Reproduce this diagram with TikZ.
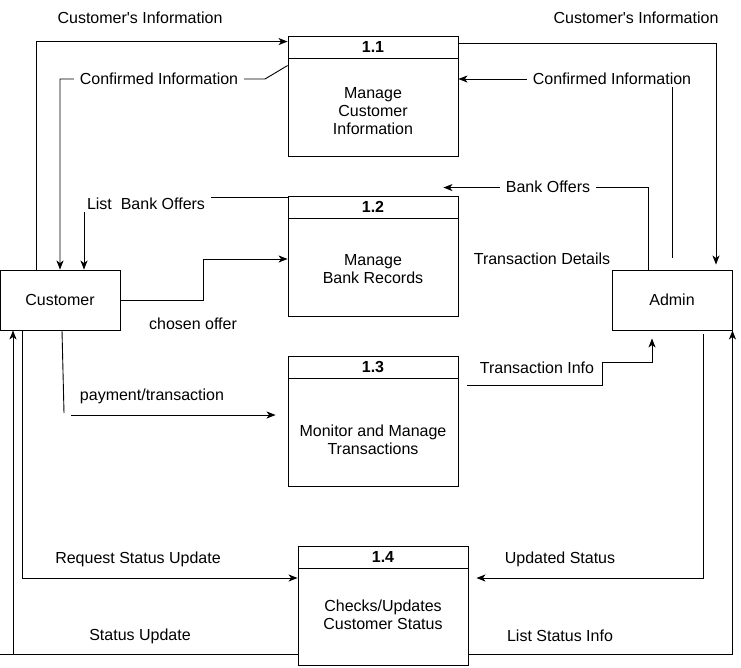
\documentclass[tikz,border=0pt]{standalone}
\usepackage{fontspec}
\setmainfont{Liberation Sans}
\usetikzlibrary{arrows.meta}

\begin{document}
\begin{tikzpicture}[x=1pt, y=-1pt,
    every node/.style={font=\fontsize{16}{18}\selectfont},
    ext/.style={draw, line width=0.9pt, minimum width=120pt, minimum height=60pt, inner sep=0pt},
    procbox/.style={draw, line width=0.9pt, minimum width=170pt, inner sep=0pt,
      path picture={\draw[line width=0.9pt]
        ([yshift=-22.5pt]path picture bounding box.north west) --
        ([yshift=-22.5pt]path picture bounding box.north east);}},
    procnum/.style={font=\fontsize{16}{18}\selectfont\bfseries},
    proctxt/.style={align=center},
    flow/.style={line width=0.9pt, -{Stealth[length=9pt, width=7pt, inset=2.5pt]}},
    plain/.style={line width=0.9pt},
    lbl/.style={fill=white, inner xsep=6pt, inner ysep=2pt}]
  \useasboundingbox (0,0) rectangle (741,667);

  % external entities
  \node[ext] (cust) at (60,300) {Customer};
  \node[ext] (admin) at (672,300) {Admin};

  % processes
  \node[procbox, minimum height=120pt] (p11) at (373,96) {};
  \node[procnum] (p11n) at ([yshift=-11.5pt]p11.north) {1.1};
  \node[proctxt] (p11t) at ([yshift=-15pt]p11.center) {Manage\\Customer\\Information};

  \node[procbox, minimum height=120pt] (p12) at (373,256) {};
  \node[procnum] (p12n) at ([yshift=-11.5pt]p12.north) {1.2};
  \node[proctxt] (p12t) at ([yshift=-13pt]p12.center) {Manage\\Bank Records};

  \node[procbox, minimum height=130pt] (p13) at (373,421) {};
  \node[procnum] (p13n) at ([yshift=-11.5pt]p13.north) {1.3};
  \node[proctxt] (p13t) at ([yshift=-19pt]p13.center) {Monitor and Manage\\Transactions};

  \node[procbox, minimum height=119pt] (p14) at (383,605.5) {};
  \node[procnum] (p14n) at ([yshift=-11.5pt]p14.north) {1.4};
  \node[proctxt] (p14t) at ([yshift=-9.5pt]p14.center) {Checks/Updates\\Customer Status};

  % data flows
  \draw[flow] ([xshift=-24pt]cust.north) |- ([yshift=-6pt]p11.north west);
  \draw[flow] ([yshift=-30pt]p11.north west) -- (265,79) -| (cust.north);
  \draw[flow] ([yshift=-2pt]p12.north west) -| ([xshift=24pt]cust.north);
  \draw[flow] (cust.east) -- (203,300) |- ([yshift=-3pt]p12.west);
  \draw[plain] ([xshift=2pt]cust.south) -- (64,413);
  \coordinate (payin) at (71,415);
  \draw[flow] (payin) -- ([xshift=-12pt,yshift=6pt]p13.west);

  \draw[flow, shorten >=5pt] ([yshift=-8pt]p11.north east) -| ([xshift=44pt]admin.north);
  \draw[flow] ([yshift=12pt]admin.north) |- ([yshift=17pt]p11.east);
  \draw[flow] ([xshift=-24pt]admin.north) |- ([xshift=-15pt,yshift=8pt]p12.north east);
  \draw[flow] ([xshift=9pt,yshift=36pt]p13.east) -| (602,362) -| ([xshift=-20pt,yshift=-8pt]admin.south);

  \draw[flow] ([xshift=31pt,yshift=-4pt]admin.south) |- ([xshift=8pt,yshift=27.5pt]p14.east);
  \draw[flow] ([yshift=-48.5pt]p14.east) -| (admin.south east);
  \draw[flow] ([xshift=-38pt]cust.south) |- ([yshift=27.5pt]p14.west);
  \draw[flow] ([yshift=-48.5pt]p14.west) -| ([xshift=-47pt]cust.south);
  \draw[plain] (13,654) -- (0,654);

  % flow labels
  \node[lbl] (lci1) at (140,18) {Customer\textquotesingle s Information};
  \node[lbl] (lconf1) at (159,79) {Confirmed Information};
  \node[lbl] (llbo) at (146,204) {List\ \ Bank Offers};
  \node[lbl] (lco) at (193,324) {chosen offer};
  \node[lbl] (lpay) at (152,396) {payment/transaction};
  \node[lbl] (lci2) at (636,18) {Customer\textquotesingle s Information};
  \node[lbl] (lconf2) at (612,79) {Confirmed Information};
  \node[lbl] (lbo) at (548,187) {Bank Offers};
  \node[lbl] (ltd) at (542,259) {Transaction Details};
  \node[lbl] (lti) at (537,368) {Transaction Info};
  \node[lbl] (lus) at (560,559) {Updated Status};
  \node[lbl] (llsi) at (560,636) {List Status Info};
  \node[lbl] (lrsu) at (138,559) {Request Status Update};
  \node[lbl] (lsu) at (140,636) {Status Update};
\end{tikzpicture}
\end{document}
